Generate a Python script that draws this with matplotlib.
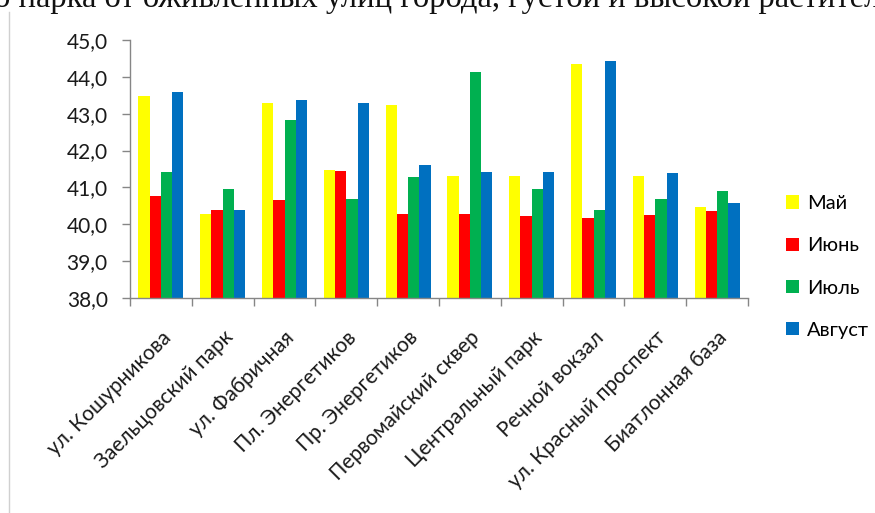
import numpy as np
import matplotlib.pyplot as plt
from matplotlib.lines import Line2D

places = ['ул. Кошурникова', 'Заельцовский парк', 'ул. Фабричная', 'Пл. Энергетиков',
          'Пр. Энергетиков', 'Первомайский сквер', 'Центральный парк', 'Речной вокзал',
          'ул. Красный проспект', 'Биатлонная база']
may = [43.47, 40.29, 43.28, 41.48, 43.25, 41.32, 41.32, 44.35, 41.30, 40.47]
june = [40.78, 40.38, 40.66, 41.45, 40.29, 40.29, 40.23, 40.17, 40.26, 40.35]
july = [41.41, 40.95, 42.82, 40.68, 41.27, 44.13, 40.95, 40.38, 40.68, 40.89]
august = [43.58, 40.38, 43.37, 43.28, 41.60, 41.41, 41.41, 44.44, 41.39, 40.59]
months = ['Май', 'Июнь', 'Июль', 'Август']
colors = ['#FFFF00', '#FF0000', '#00B050', '#0070C0']

plt.rcParams['font.family'] = ['Lato', 'DejaVu Sans']

fig = plt.figure(figsize=(8.75, 5.13), dpi=100)
ax = fig.add_axes([130 / 875, 1 - 298 / 513, 618 / 875, 258 / 513])

x = np.arange(len(places))
w = 0.182
for k, (vals, name) in enumerate(zip([may, june, july, august], months)):
    ax.bar(x + (k - 1.5) * w, np.array(vals) - 38, bottom=38, width=w,
           color=colors[k], label=name, linewidth=0)

ax.set_xlim(-0.5, len(places) - 0.5)
ax.set_ylim(38, 45)
ax.set_yticks(np.arange(38, 46, 1))
ax.set_yticklabels([f'{v:.1f}'.replace('.', ',') for v in np.arange(38, 46, 1)])

ax.set_xticks(np.arange(len(places) + 1) - 0.5)
ax.set_xticklabels([])
ax.set_xticks(x, minor=True)
ax.set_xticklabels(places, minor=True, rotation=45, ha='right', va='top',
                   rotation_mode='anchor', fontsize=15, color='#1a1a1a')
ax.tick_params(axis='x', which='minor', length=0, pad=21)
ax.tick_params(axis='x', which='major', length=6, color='#868686', width=1)
ax.tick_params(axis='y', length=6, color='#868686', width=1, pad=10,
               labelsize=15, labelcolor='#1a1a1a')

for s in ['top', 'right']:
    ax.spines[s].set_visible(False)
for s in ['left', 'bottom']:
    ax.spines[s].set_color('#868686')
    ax.spines[s].set_linewidth(1)

fig.legend(loc='center left', bbox_to_anchor=(786 / 875, 1 - 267 / 513), frameon=False,
           fontsize=14.5, handlelength=0.65, handleheight=0.65, handletextpad=0.4,
           labelspacing=1.25, borderpad=0, borderaxespad=0)

# chart border and clipped line of text above
fig.add_artist(Line2D([9 / 875, 9 / 875], [0, 1 - 12 / 513], transform=fig.transFigure,
                      color='#d0d0d0', linewidth=1))
fig.text(-6 / 875, 1 - 7 / 513, 'о парка от оживленных улиц города, густой и высокой растител',
         family='Liberation Serif', fontsize=23.5, va='baseline', ha='left', color='#111111')

fig.savefig('out.png', dpi=100)
